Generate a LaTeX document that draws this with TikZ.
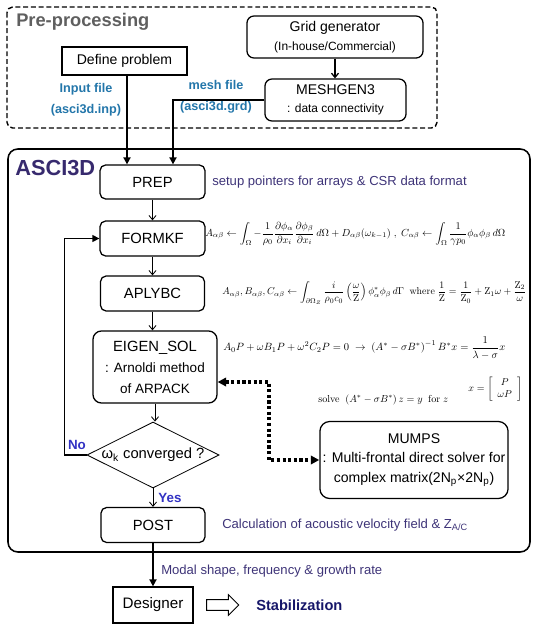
\documentclass[tikz,border=0pt]{standalone}
\usepackage{amsmath}
\usepackage{amssymb}
\usepackage{graphicx}
\usepackage[no-math]{fontspec}
\setmainfont{Liberation Sans}
\usetikzlibrary{shapes.geometric, shapes.arrows, arrows.meta, positioning, calc}
\definecolor{pregray}{RGB}{95, 95, 95}
\definecolor{fileblue}{RGB}{35, 118, 170}
\definecolor{ascipurple}{RGB}{55, 42, 110}
\definecolor{notepurple}{RGB}{62, 52, 120}
\definecolor{branchblue}{RGB}{50, 50, 195}
\definecolor{stabnavy}{RGB}{22, 22, 105}
\newcommand{\fitmath}[2]{\resizebox{#1}{!}{$\displaystyle #2$}}

\begin{document}
\begin{tikzpicture}[x=0.025cm, y=-0.025cm,
    box/.style={rectangle, draw, line width=0.9pt, rounded corners=4pt, align=center,
                inner sep=1pt, font=\fontsize{10.5}{13}\selectfont},
    sqbox/.style={rectangle, draw, line width=0.9pt, align=center, inner sep=1pt,
                  font=\fontsize{10}{12}\selectfont},
    flbl/.style={align=center, inner sep=0pt, text=fileblue, font=\bfseries\fontsize{9}{15}\selectfont},
    note/.style={anchor=west, inner sep=0pt, text=notepurple, font=\fontsize{9.3}{11}\selectfont},
    eqn/.style={anchor=west, inner sep=0pt},
    inarr/.style={line width=1.3pt, -{Triangle[length=5pt, width=5pt]}},
    steparr/.style={line width=0.6pt, -{Straight Barb[length=3pt, width=5pt]}},
    looparr/.style={line width=1pt, -{Triangle[length=5pt, width=5pt]}},
    dotarr/.style={line width=2.2pt, dash pattern=on 2.2pt off 1.8pt,
                   {Triangle[length=6pt, width=6pt]}-{Triangle[length=6pt, width=6pt]}}
]
\useasboundingbox (0,0) rectangle (533,625);

% frames
\draw[line width=1pt, dash pattern=on 3.5pt off 2pt, rounded corners=4pt] (7,7) rectangle (437,128);
\draw[line width=1.1pt, rounded corners=7pt] (8,149) rectangle (530,552);
\node[anchor=west, inner sep=0pt, text=pregray, font=\bfseries\fontsize{13}{15}\selectfont] (pretitle) at (16,22) {Pre-processing};
\node[anchor=west, inner sep=0pt, text=ascipurple, font=\bfseries\fontsize{15.5}{17}\selectfont] (ascititle) at (15,168) {ASCI3D};

% pre-processing
\node[sqbox, minimum width=3.125cm, minimum height=0.7cm] (define) at (124.5,61) {Define problem};
\node[box, rounded corners=5pt, minimum width=4.4cm, minimum height=1.05cm, font=\fontsize{10}{12}\selectfont] (grid) at (335,37)
    {Grid generator\\[1pt]{\fontsize{8.5}{10}\selectfont (In-house/Commercial)}};
\node[box, rounded corners=5pt, minimum width=3.525cm, minimum height=1.05cm, font=\fontsize{10}{12}\selectfont] (mesh) at (335.5,100)
    {MESHGEN3\\[1pt]{\fontsize{8.5}{10}\selectfont : data connectivity}};
\node[flbl] (inlbl) at (86,100) {Input file\\(asci3d.inp)};
\node[flbl] (meshlbl) at (216,97) {mesh file\\(asci3d.grd)};

% solver chain
\node[box, minimum width=2.625cm, minimum height=0.85cm] (prep) at (152.5,182) {PREP};
\node[box, minimum width=2.625cm, minimum height=0.875cm] (formkf) at (152.5,238.5) {FORMKF};
\node[box, minimum width=2.6cm, minimum height=0.875cm] (aplybc) at (152.5,293.5) {APLYBC};
\node[box, rounded corners=6pt, minimum width=3.1cm, minimum height=1.8cm, font=\fontsize{10.5}{15}\selectfont] (eigen) at (155,367)
    {EIGEN\_SOL\\{\fontsize{9.6}{15}\selectfont : Arnoldi method}\\{\fontsize{9.6}{15}\selectfont of ARPACK}};
\node[diamond, draw, line width=0.6pt, aspect=2, inner sep=0pt, minimum width=3.3cm, minimum height=1.65cm,
      font=\fontsize{10.5}{12}\selectfont] (dia) at (153,455) {ω\textsubscript{k} converged ?};
\node[box, minimum width=2.6cm, minimum height=0.875cm] (post) at (153,525) {POST};
\node[sqbox, minimum width=2.0cm, minimum height=0.9cm, font=\fontsize{10.8}{12}\selectfont] (designer) at (153,605) {Designer};
\node[box, rounded corners=7pt, inner sep=2pt, minimum height=1.925cm, font=\fontsize{10}{14}\selectfont] (mumps) at (414,460)
    {MUMPS\\: Multi-frontal direct solver for\\complex matrix(2N\textsubscript{p}×2N\textsubscript{p})};
\node[single arrow, draw, line width=0.6pt, inner sep=3.5pt, minimum height=0.8cm,
      single arrow head extend=3.5pt] (hollow) at (220,605) {};

% notes
\node[note] (prepnote) at (212,182) {setup pointers for arrays \& CSR data format};
\node[note] (postnote) at (222,525) {Calculation of acoustic velocity field \& Z\textsubscript{A/C}};
\node[note] (modalnote) at (161,571) {Modal shape, frequency \& growth rate};
\node[anchor=west, inner sep=0pt, text=stabnavy, font=\bfseries\fontsize{10.4}{12}\selectfont] (stab) at (256,605) {Stabilization};
\node[inner sep=0pt, text=branchblue, font=\bfseries\fontsize{9.5}{11}\selectfont] (nolbl) at (77,445) {No};
\node[inner sep=0pt, text=branchblue, font=\bfseries\fontsize{9.5}{11}\selectfont] (yeslbl) at (170,498) {Yes};

% equations
\node[eqn] (formkfeq) at (205,234) {\fitmath{7.5cm}{A_{\alpha\beta} \leftarrow \int_\Omega -\frac{1}{\rho_0}\frac{\partial\phi_\alpha}{\partial x_i}\frac{\partial\phi_\beta}{\partial x_i}\,d\Omega + D_{\alpha\beta}(\omega_{k-1})\ ,\ C_{\alpha\beta} \leftarrow \int_\Omega \frac{1}{\gamma p_0}\phi_\alpha\phi_\beta\,d\Omega}};
\node[eqn] (aplybceq) at (222,293) {\fitmath{7.6cm}{A_{\alpha\beta},B_{\alpha\beta},C_{\alpha\beta} \leftarrow \int_{\partial\Omega_Z}\frac{i}{\rho_0c_0}\left(\frac{\omega}{\mathrm{Z}}\right)\phi_\alpha^*\phi_\beta\,d\Gamma\ \ \mathrm{where}\ \frac{1}{\mathrm{Z}}=\frac{1}{\mathrm{Z}_0}+\mathrm{Z}_1\omega+\frac{\mathrm{Z}_2}{\omega}}};
\node[eqn] (eigeneq) at (223,348) {\fitmath{7.05cm}{A_0P+\omega B_1P+\omega^2C_2P=0\ \rightarrow\ \left(A^*-\sigma B^*\right)^{-1}B^*x=\frac{1}{\lambda-\sigma}x}};
\node[eqn] (xvec) at (468,389) {\fitmath{1.35cm}{x=\left[\begin{array}{c}P\\ \omega P\end{array}\right]}};
\node[eqn] (solveeq) at (318,400) {\fitmath{3.25cm}{\mathrm{solve}\ \ (A^*-\sigma B^*)\,z=y\ \ \mathrm{for}\ z}};

% connectors
\coordinate (inx) at (127,0);
\coordinate (meshx) at (173,0);
\coordinate (dotc) at (269,382);
\draw[steparr, line width=0.9pt] (grid.south) -- (grid.south |- mesh.north);
\draw[inarr] (define.south -| inx) -- (prep.north -| inx);
\draw[inarr] (mesh.west) -| (prep.north -| meshx);
\foreach \a/\b in {prep/formkf, formkf/aplybc, aplybc/eigen, eigen/dia, dia/post}
    \draw[steparr] (\a.south) -- (\a.south |- \b.north);
\draw[looparr] (dia.west) -- ++(-22,0) |- (formkf.west);
\draw[dotarr] (eigen.east |- dotc) -- (dotc) -- (dotc |- mumps.west) -- (mumps.west);
\draw[inarr] (post) -- (designer);
\end{tikzpicture}
\end{document}
